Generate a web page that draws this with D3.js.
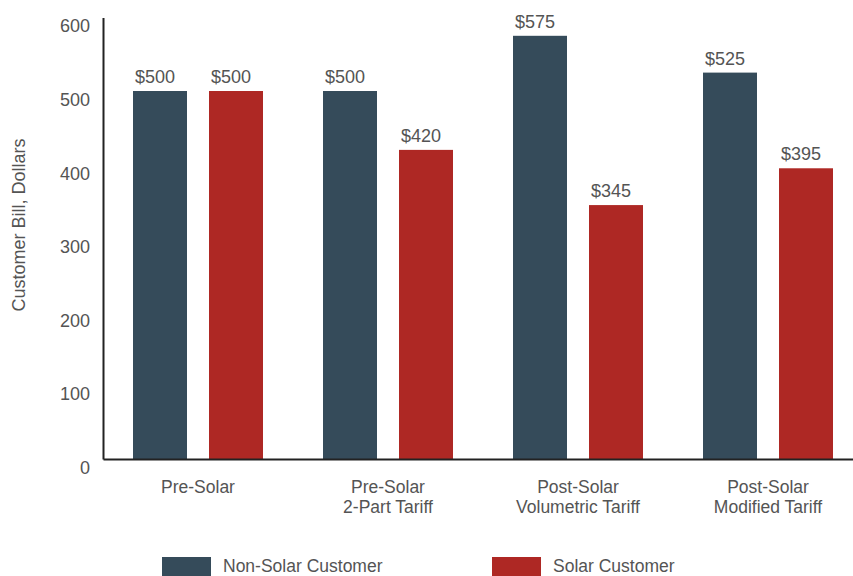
<!DOCTYPE html>
<html>
<head>
<meta charset="utf-8">
<script src="https://cdn.jsdelivr.net/npm/d3@7"></script>
<style>
  body { margin: 0; background: #fff; }
  text { font-family: "Liberation Sans", Arial, sans-serif; fill: #545454; }
</style>
</head>
<body>
<svg id="chart" width="853" height="576"></svg>
<script>
// chart data
var categories = ["Pre-Solar", "Pre-Solar\n2-Part Tariff", "Post-Solar\nVolumetric Tariff", "Post-Solar\nModified Tariff"];
var seriesNames = ["Non-Solar Customer", "Solar Customer"];
var nonSolar = [500, 500, 575, 525];
var solar = [500, 420, 345, 395];
var yTicks = [0, 100, 200, 300, 400, 500, 600];

var colors = ["#354b5a", "#ae2824"];

var svg = d3.select("#chart");
var plotLeft = 103, plotRight = 863, plotTop = 17.4, plotBottom = 459;

var rows = categories.map(function(c, i) {
    return { cat: c, values: [nonSolar[i], solar[i]] };
});

var x0 = d3.scaleBand()
    .domain(categories)
    .range([plotLeft, plotRight])
    .paddingInner(60 / 190)
    .paddingOuter(30 / 190);

var x1 = d3.scaleBand()
    .domain([0, 1])
    .range([0, x0.bandwidth()])
    .paddingInner(22 / 76);

var y = d3.scaleLinear()
    .domain([0, 600])
    .range([plotBottom, plotTop]);

// bars
var groups = svg.selectAll("g.group")
    .data(rows)
    .enter().append("g")
    .attr("class", "group")
    .attr("transform", function(d) { return "translate(" + x0(d.cat) + ",0)"; });

groups.selectAll("rect")
    .data(function(d) { return d.values; })
    .enter().append("rect")
    .attr("x", function(d, i) { return x1(i); })
    .attr("y", function(d) { return y(d); })
    .attr("width", x1.bandwidth())
    .attr("height", function(d) { return y(0) - y(d); })
    .attr("fill", function(d, i) { return colors[i]; });

// value labels sit a little left of centre, like the original
groups.selectAll("text.val")
    .data(function(d) { return d.values; })
    .enter().append("text")
    .attr("class", "val")
    .attr("x", function(d, i) { return x1(i) + 2; })
    .attr("y", function(d) { return y(d) - 8; })
    .style("font-size", "18px")
    .text(function(d) { return "$" + d; });

// y axis
var yAxis = d3.axisLeft(y).tickValues(yTicks).tickSize(0).tickPadding(13);
var gy = svg.append("g")
    .attr("transform", "translate(" + plotLeft + ",0)")
    .call(yAxis);
gy.select(".domain").attr("stroke", "#222").attr("stroke-width", 2);
gy.selectAll(".tick text")
    .attr("dy", "0.8em")
    .style("font-size", "18px")
    .style("font-family", "'Liberation Sans', Arial, sans-serif")
    .attr("fill", "#545454");

// x axis
var xAxis = d3.axisBottom(x0).tickSize(0).tickFormat("");
var gx = svg.append("g")
    .attr("transform", "translate(0," + plotBottom + ")")
    .call(xAxis);
gx.select(".domain").attr("stroke", "#222").attr("stroke-width", 2);

// category labels, split on newline
categories.forEach(function(c) {
    var lines = c.split("\n");
    var t = svg.append("text")
        .attr("text-anchor", "middle")
        .style("font-size", "17.5px")
        .attr("x", x0(c) + x0.bandwidth() / 2)
        .attr("y", 493);
    lines.forEach(function(l, i) {
        t.append("tspan")
            .attr("x", x0(c) + x0.bandwidth() / 2)
            .attr("dy", i == 0 ? 0 : 20)
            .text(l);
    });
});

// y title
svg.append("text")
    .attr("transform", "translate(25,225) rotate(-90)")
    .attr("text-anchor", "middle")
    .style("font-size", "18px")
    .text("Customer Bill, Dollars");

// legend
var legendX = [162, 492];
seriesNames.forEach(function(s, i) {
    svg.append("rect")
        .attr("x", legendX[i])
        .attr("y", 557)
        .attr("width", 49)
        .attr("height", 20)
        .attr("fill", colors[i]);
    svg.append("text")
        .attr("x", legendX[i] + 61)
        .attr("y", 572)
        .style("font-size", "17.5px")
        .text(s);
});
</script>
</body>
</html>
